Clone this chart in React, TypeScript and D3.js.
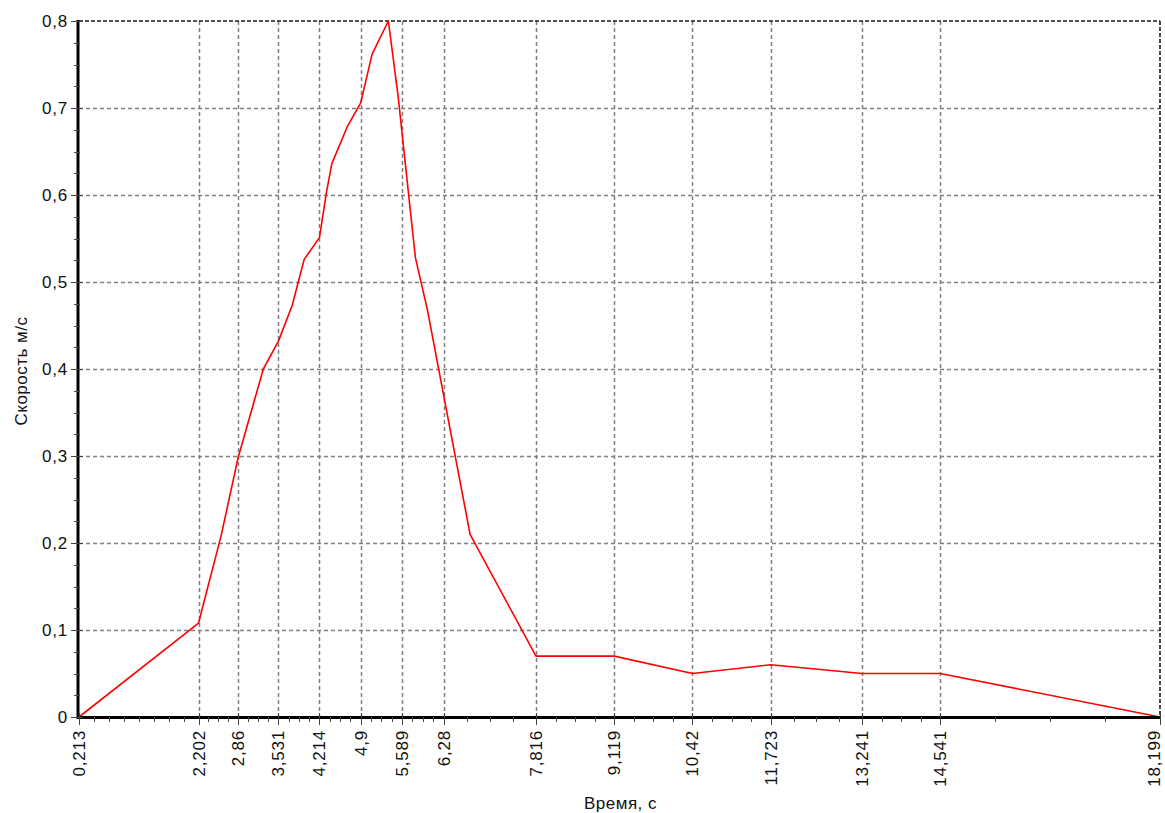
import React from "react";
import * as d3 from "d3";

const xTicks = [0.213, 2.202, 2.86, 3.531, 4.214, 4.9, 5.589, 6.28, 7.816, 9.119, 10.42, 11.723, 13.241, 14.541, 18.199];
const yTicks = [0, 0.1, 0.2, 0.3, 0.4, 0.5, 0.6, 0.7, 0.8];
const times = [0.213, 2.202, 2.58, 2.86, 3.28, 3.531, 3.76, 3.96, 4.214, 4.33, 4.42, 4.68, 4.9, 5.09, 5.36, 5.52, 5.81, 6.01, 6.72, 7.816, 9.119, 10.42, 11.723, 13.241, 14.541, 18.199];
const speeds = [0, 0.108, 0.209, 0.298, 0.4, 0.432, 0.473, 0.526, 0.551, 0.603, 0.636, 0.679, 0.706, 0.762, 0.8, 0.715, 0.528, 0.468, 0.21, 0.07, 0.07, 0.05, 0.06, 0.05, 0.05, 0];
const xTitle = "Время, с";
const yTitle = "Скорость м/с";

const W = 1165;
const H = 813;
const L = 79, R = 1160, T = 21, B = 717;
const FONT = "'Liberation Sans', Arial, sans-serif";

const fmt = (v: number) => String(+v.toFixed(3)).replace(".", ",");

export default function App() {
  const x = d3.scaleLinear().domain([xTicks[0], xTicks[xTicks.length - 1]]).range([L, R]);
  const y = d3.scaleLinear().domain([0, 0.8]).range([B, T]);
  const pts: [number, number][] = times.map((t, i) => [t, speeds[i]]);
  const line = d3.line<[number, number]>().x((d) => x(d[0])).y((d) => y(d[1]));

  const xMinor: number[] = [];
  for (let i = 0; i < xTicks.length - 1; i++) {
    const n = i === 0 ? 8 : 4;
    for (let k = 1; k < n; k++) xMinor.push(xTicks[i] + ((xTicks[i + 1] - xTicks[i]) * k) / n);
  }
  const yMinor: number[] = [];
  for (let i = 0; i < yTicks.length - 1; i++) {
    for (let k = 1; k < 4; k++) yMinor.push(yTicks[i] + ((yTicks[i + 1] - yTicks[i]) * k) / 4);
  }

  return (
    <svg width={W} height={H} style={{ position: "absolute", left: 0, top: 0, background: "#fff" }}>
      <rect x={0} y={0} width={W} height={H} fill="#fff" />
      {/* grid */}
      <g stroke="#7f7f7f" strokeWidth={1.5} strokeDasharray="4 3" fill="none">
        {yTicks.slice(1, -1).map((v) => (
          <line key={"gy" + v} x1={L} x2={R} y1={Math.round(y(v)) + 0.5} y2={Math.round(y(v)) + 0.5} />
        ))}
        {xTicks.slice(1, -1).map((v) => (
          <line key={"gx" + v} x1={Math.round(x(v)) + 0.5} x2={Math.round(x(v)) + 0.5} y1={T} y2={B} />
        ))}
      </g>
      {/* top and right frame */}
      <g stroke="#1a1a1a" strokeWidth={1.6} strokeDasharray="4 2" fill="none">
        <line x1={L} x2={R} y1={T} y2={T} />
        <line x1={R} x2={R} y1={T} y2={B} />
      </g>
      {/* data line */}
      <path d={line(pts) || ""} fill="none" stroke="#ff0000" strokeWidth={1.6} strokeLinejoin="round" />
      {/* axes */}
      <line x1={L - 1} x2={L - 1} y1={T - 1} y2={B + 2} stroke="#000" strokeWidth={3} />
      <line x1={L - 2} x2={R + 1} y1={B + 0.5} y2={B + 0.5} stroke="#000" strokeWidth={3} />
      {/* ticks */}
      <g stroke="#444" strokeWidth={1}>
        {yTicks.map((v) => (
          <line key={"ty" + v} x1={L - 8} x2={L + 4} y1={Math.round(y(v)) + 0.5} y2={Math.round(y(v)) + 0.5} />
        ))}
        {yMinor.map((v) => (
          <line key={"my" + v} x1={L - 5} x2={L + 1} y1={Math.round(y(v)) + 0.5} y2={Math.round(y(v)) + 0.5} />
        ))}
        {xTicks.map((v) => (
          <line key={"tx" + v} x1={Math.round(x(v)) + 0.5} x2={Math.round(x(v)) + 0.5} y1={B - 4} y2={B + 8} />
        ))}
        {xMinor.map((v, i) => (
          <line key={"mx" + i} x1={Math.round(x(v)) + 0.5} x2={Math.round(x(v)) + 0.5} y1={B} y2={B + 5} />
        ))}
      </g>
      {/* y labels */}
      <g fontFamily={FONT} fontSize={17} fill="#111" textAnchor="end" letterSpacing={0.8}>
        {yTicks.map((v) => (
          <text key={"ly" + v} x={L - 11} y={y(v)} dy="0.36em">
            {fmt(v)}
          </text>
        ))}
      </g>
      {/* x labels */}
      <g fontFamily={FONT} fontSize={17} fill="#111" textAnchor="end" letterSpacing={0.8}>
        {xTicks.map((v) => (
          <text key={"lx" + v} transform={`translate(${Math.min(x(v) + 6, W - 5)},${B + 13}) rotate(-90)`}>
            {fmt(v)}
          </text>
        ))}
      </g>
      {/* titles */}
      <text x={(L + R) / 2 + 1} y={809} fontFamily={FONT} fontSize={17} fill="#111" textAnchor="middle" letterSpacing={0.5}>
        {xTitle}
      </text>
      <text transform={`translate(27,${(T + B) / 2 + 2}) rotate(-90)`} fontFamily={FONT} fontSize={17} fill="#111" textAnchor="middle" letterSpacing={0.5}>
        {yTitle}
      </text>
    </svg>
  );
}
